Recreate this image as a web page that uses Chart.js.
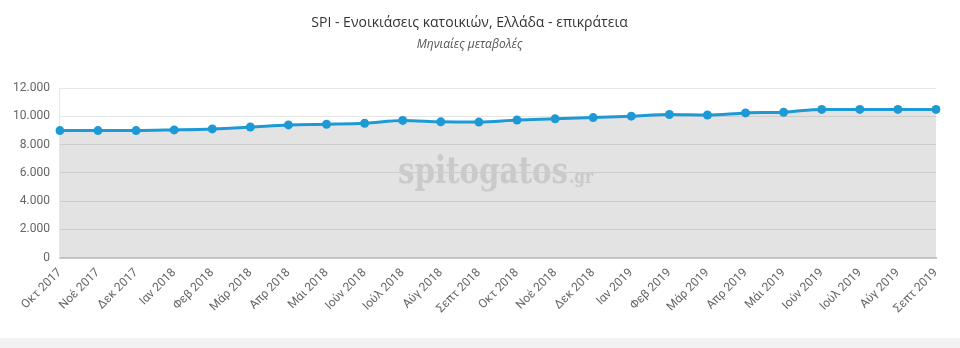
<!DOCTYPE html>
<html><head><meta charset="utf-8">
<script src="https://cdn.jsdelivr.net/npm/chart.js@4/dist/chart.umd.min.js"></script>
<style>
html,body{margin:0;padding:0;background:#fff;}
#wrap{width:960px;height:338px;position:relative;}
#band{width:960px;height:10px;background:#f2f2f2;}
</style></head>
<body>
<div id="wrap"><canvas id="c"></canvas></div>
<div id="band"></div>
<script>
const categories = ["Οκτ 2017","Νοέ 2017","Δεκ 2017","Ιαν 2018","Φεβ 2018","Μάρ 2018","Απρ 2018","Μάι 2018","Ιούν 2018","Ιούλ 2018","Αύγ 2018","Σεπτ 2018","Οκτ 2018","Νοέ 2018","Δεκ 2018","Ιαν 2019","Φεβ 2019","Μάρ 2019","Απρ 2019","Μάι 2019","Ιούν 2019","Ιούλ 2019","Αύγ 2019","Σεπτ 2019"];
const spiValues = [9000,9000,9000,9050,9120,9250,9400,9450,9520,9720,9620,9600,9750,9830,9920,10020,10140,10100,10250,10300,10500,10500,10500,10500];
const yTicks = [0,2000,4000,6000,8000,10000,12000];
const titleText = "SPI - Ενοικιάσεις κατοικιών, Ελλάδα - επικράτεια";
const subtitleText = "Μηνιαίες μεταβολές";

const watermark = {
  id: 'watermark',
  beforeDraw(chart) {
    const {ctx} = chart;
    ctx.save();
    ctx.fillStyle = '#e3e3e3';
    ctx.textBaseline = 'alphabetic';
    ctx.font = 'bold 38px "DejaVu Serif"';
    const w1 = ctx.measureText('spitogatos').width;
    const x0 = 398, yb = 183, target = 170;
    const sx = target / w1;
    ctx.save();
    ctx.translate(x0, yb);
    ctx.scale(sx, 1);
    ctx.fillText('spitogatos', 0, 0);
    ctx.restore();
    ctx.font = 'bold 19px "DejaVu Serif"';
    const w2 = ctx.measureText('.gr').width;
    ctx.translate(x0 + target + 1, yb);
    ctx.scale(24 / w2, 1);
    ctx.fillText('.gr', 0, 0);
    ctx.restore();
  }
};

new Chart(document.getElementById('c'), {
  type: 'line',
  data: {
    labels: categories,
    datasets: [{
      data: spiValues,
      borderColor: '#1d9ad6',
      backgroundColor: 'rgba(0,0,0,0.11)',
      fill: 'origin',
      borderWidth: 3,
      pointRadius: 4.5,
      pointBackgroundColor: '#1d9ad6',
      pointBorderColor: '#1d9ad6',
      pointBorderWidth: 0,
      tension: 0.3,
      cubicInterpolationMode: 'monotone'
    }]
  },
  options: {
    responsive: true,
    maintainAspectRatio: false,
    animation: false,
    layout: { padding: { top: 15, left: 3, right: 24, bottom: 14 } },
    plugins: {
      legend: { display: false },
      tooltip: { enabled: false },
      title: {
        display: true, text: titleText, color: '#333',
        font: { family: '"Open Sans"', size: 14, weight: 'normal' },
        padding: { top: 0, bottom: 6 }
      },
      subtitle: {
        display: true, text: subtitleText, color: '#555',
        font: { family: '"Open Sans"', size: 12, style: 'italic' },
        padding: { top: 0, bottom: 36 }
      }
    },
    scales: {
      x: {
        offset: false,
        grid: { display: false, drawTicks: false },
        border: { display: true, color: '#c8c8c8', width: 2 },
        ticks: {
          color: '#666', font: { family: 'Roboto', size: 12 },
          minRotation: 45, maxRotation: 45, autoSkip: false, padding: 8
        }
      },
      y: {
        min: 0, max: 12000,
        afterBuildTicks(scale) { scale.ticks = yTicks.map(v => ({ value: v })); },
        grid: { color: '#e6e6e6', drawTicks: false },
        border: { display: true, color: '#e6e6e6', width: 1 },
        ticks: {
          color: '#666', font: { family: 'Roboto', size: 12 }, padding: 10,
          callback: v => v.toLocaleString('de-DE')
        }
      }
    }
  },
  plugins: [watermark]
});
</script>
</body></html>
